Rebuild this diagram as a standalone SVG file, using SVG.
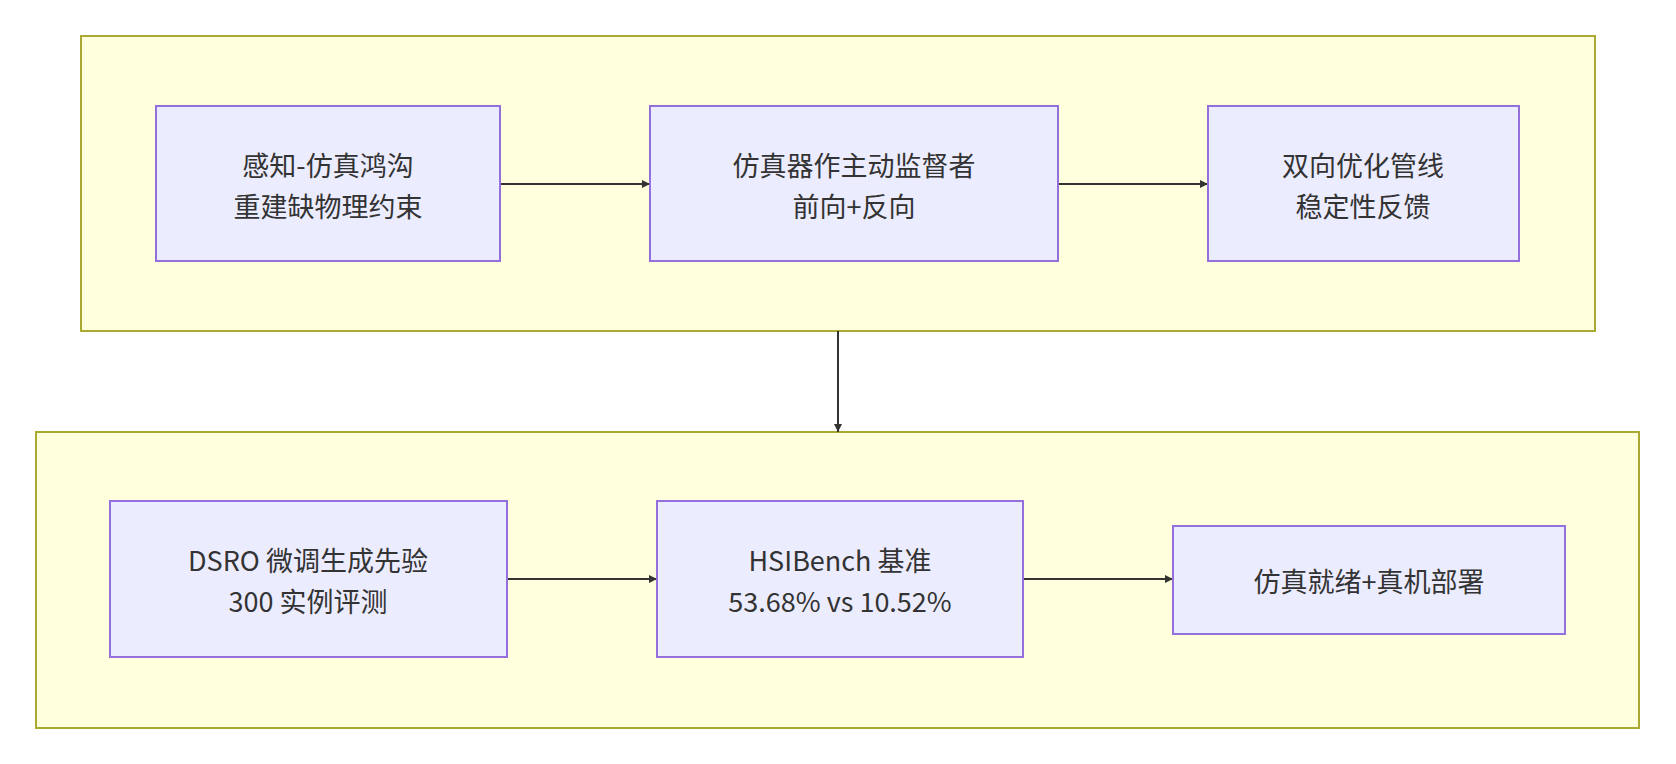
<svg xmlns="http://www.w3.org/2000/svg" width="1676" height="764" viewBox="0 0 1676 764">
<style>
.cl{fill:#ffffde;stroke:#aaaa33;stroke-width:2}
.nd{fill:#ececff;stroke:#9370db;stroke-width:2}
text{font-family:"Noto Sans CJK SC","Noto Sans",sans-serif;font-size:27px;fill:#333;text-anchor:middle;dominant-baseline:central}
.ed{stroke:#333;stroke-width:2;fill:none;marker-end:url(#ar)}
</style>
<defs><marker id="ar" viewBox="0 0 10 10" refX="10" refY="5" markerWidth="8" markerHeight="8" markerUnits="userSpaceOnUse" orient="auto"><path d="M0,0L10,5L0,10z" fill="#333"/></marker></defs>
<rect class="cl" x="81" y="36" width="1514" height="295"/>
<rect class="cl" x="36" y="432" width="1603" height="296"/>
<g id="connectors">
<path class="ed" d="M500,184H650"/>
<path class="ed" d="M1058,184H1208"/>
<path class="ed" d="M838,331V432"/>
<path class="ed" d="M507,579H657"/>
<path class="ed" d="M1023,579H1173"/>
</g>
<g id="n1"><rect class="nd" x="156" y="106" width="344" height="155"/><text x="328" y="164">感知-仿真鸿沟</text><text x="328" y="205">重建缺物理约束</text></g>
<g id="n2"><rect class="nd" x="650" y="106" width="408" height="155"/><text x="854" y="164">仿真器作主动监督者</text><text x="854" y="205">前向+反向</text></g>
<g id="n3"><rect class="nd" x="1208" y="106" width="311" height="155"/><text x="1363" y="164">双向优化管线</text><text x="1363" y="205">稳定性反馈</text></g>
<g id="n4"><rect class="nd" x="110" y="501" width="397" height="156"/><text x="308" y="559">DSRO 微调生成先验</text><text x="308" y="600">300 实例评测</text></g>
<g id="n5"><rect class="nd" x="657" y="501" width="366" height="156"/><text x="840" y="559">HSIBench 基准</text><text x="840" y="600">53.68% vs 10.52%</text></g>
<g id="n6"><rect class="nd" x="1173" y="526" width="392" height="108"/><text x="1369" y="580">仿真就绪+真机部署</text></g>
</svg>
